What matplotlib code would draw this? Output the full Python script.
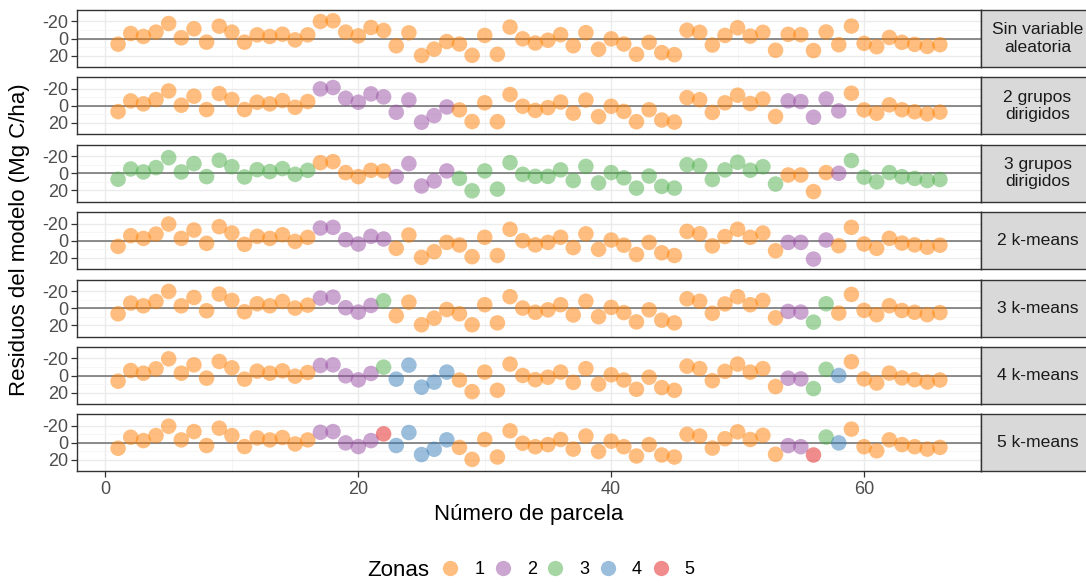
import matplotlib
matplotlib.use("Agg")
import matplotlib.pyplot as plt
from matplotlib.lines import Line2D
import numpy as np

plt.rcParams['font.family'] = ['Liberation Sans', 'DejaVu Sans']

parcela = list(range(1, 67))
paneles = ["Sin variable\naleatoria", "2 grupos\ndirigidos", "3 grupos\ndirigidos",
           "2 k-means", "3 k-means", "4 k-means", "5 k-means"]
zonas_labels = ["1", "2", "3", "4", "5"]
zonas_colores = ["#FF7F00", "#984EA3", "#4DAF4A", "#377EB8", "#E41A1C"]
x_ticks = [0, 20, 40, 60]
y_ticks = [-20, 0, 20]

res_sin = [6.7, -5.9, -2.4, -7.5, -17.6, -0.8, -11.4, 4.3, -14.5, -7.5,
           4.3, -4.3, -2.4, -5.1, 1.6, -4.3, -20.0, -20.8, -7.5, -3.1,
           -12.9, -9.4, 8.6, -6.7, 20.0, 12.5, 3.6, 6.5, 19.8, -3.6,
           18.6, -13.4, 0.4, 5.3, 2.0, -4.5, 8.5, -6.9, 12.6, 0.4,
           6.5, 18.6, 4.5, 16.6, 19.0, -9.7, -7.3, 7.7, -3.6, -12.6,
           -2.8, -7.3, 13.8, -4.9, -4.5, 14.2, -7.7, 7.3, -14.6, 5.7,
           9.7, -1.2, 4.5, 6.9, 9.3, 7.3]
zona_sin = [1] * 66

res_2d = [6.7, -5.9, -2.4, -7.5, -17.6, -0.8, -11.4, 4.3, -14.5, -7.5,
          4.3, -4.3, -2.4, -6.3, 1.6, -5.1, -20.0, -21.6, -9.0, -4.3,
          -14.1, -10.6, 7.5, -7.0, 19.2, 11.4, 1.2, 4.7, 18.4, -3.6,
          18.6, -13.4, 0.4, 5.3, 2.0, -4.5, 8.5, -6.9, 12.6, 0.4,
          6.5, 18.6, 4.5, 16.6, 19.0, -9.7, -7.3, 7.7, -3.6, -12.6,
          -2.8, -8.2, 12.5, -5.9, -5.1, 13.3, -8.2, 5.9, -14.9, 4.7,
          8.6, -1.2, 4.5, 6.9, 9.3, 7.3]
zona_2d = [1] * 16 + [2] * 11 + [1] * 26 + [2] * 5 + [1] * 8

res_3d = [7.0, -5.1, -1.6, -6.7, -18.4, -1.6, -11.4, 3.9, -15.3, -7.8,
          4.3, -4.3, -2.0, -5.5, 1.2, -3.5, -12.5, -13.7, -0.8, 3.9,
          -3.5, -2.7, 3.9, -11.4, 14.9, 9.0, -2.8, 6.0, 20.6, -2.8,
          18.6, -12.6, 1.2, 3.6, 3.6, -4.0, 8.5, -8.1, 11.3, -0.8,
          5.3, 17.4, 3.2, 15.4, 17.4, -10.1, -8.9, 7.3, -4.0, -13.0,
          -3.6, -7.7, 12.6, 2.0, 2.0, 21.5, -0.8, 0.0, -15.0, 4.5,
          10.1, -0.8, 4.0, 6.0, 8.5, 7.3]
zona_3d = [3] * 16 + [1] * 6 + [2] * 5 + [3] * 26 + [1] * 4 + [2] + [3] * 8

res_2k = [6.7, -5.9, -2.7, -7.8, -19.6, -2.7, -12.5, 3.1, -16.5, -9.0,
          4.3, -5.1, -2.7, -7.0, 0.8, -3.9, -14.9, -15.7, -1.2, 3.9,
          -5.1, -2.0, 9.0, -6.7, 19.6, 12.9, 2.0, 5.1, 18.8, -4.0,
          17.4, -13.4, 0.0, 4.9, 2.0, -4.0, 8.1, -8.1, 10.1, -0.8,
          5.3, 16.2, 2.0, 14.2, 17.4, -10.9, -8.1, 6.1, -4.9, -13.4,
          -4.0, -9.0, 11.8, 2.0, 2.0, 21.6, -0.8, 5.9, -15.7, 3.9,
          9.0, -2.8, 2.8, 4.9, 7.7, 5.3]
zona_2k = [1] * 16 + [2] * 6 + [1] * 31 + [2] * 4 + [1] * 9

res_3k = [6.7, -5.9, -2.7, -7.8, -19.6, -2.7, -12.5, 3.1, -16.5, -9.0,
          4.3, -5.1, -2.7, -7.8, 0.0, -3.5, -11.8, -12.9, -0.4, 4.7,
          -3.1, -8.6, 9.0, -7.0, 19.6, 11.8, 1.6, 6.7, 19.6, -4.0,
          17.4, -13.4, 0.0, 4.9, 2.0, -4.0, 8.1, -8.1, 10.1, -0.8,
          5.3, 16.2, 2.0, 14.2, 17.4, -10.9, -8.1, 6.1, -4.9, -13.4,
          -4.0, -9.0, 11.4, 3.9, 4.7, 16.5, -5.1, 5.9, -16.1, 2.7,
          7.8, -2.8, 2.8, 4.9, 7.7, 5.3]
zona_3k = [1] * 16 + [2] * 5 + [3] + [1] * 31 + [2] * 2 + [3] * 2 + [1] * 9

res_4k = [6.7, -5.9, -2.7, -7.8, -19.6, -2.7, -12.5, 3.1, -16.5, -9.0,
          4.3, -5.1, -2.7, -5.5, 0.8, -3.5, -11.8, -12.5, 0.4, 5.1,
          -2.4, -9.8, 4.3, -12.2, 13.7, 7.8, -4.0, 5.3, 19.0, -4.0,
          17.4, -13.4, 0.0, 4.9, 2.0, -4.0, 8.1, -8.1, 10.1, -0.8,
          5.3, 16.2, 2.0, 14.2, 17.4, -10.9, -8.1, 6.1, -4.9, -13.4,
          -4.0, -8.1, 13.0, 3.2, 4.0, 15.4, -7.3, 0.0, -16.2, 4.0,
          8.9, -2.8, 2.8, 4.9, 7.7, 5.3]
zona_4k = [1] * 16 + [2] * 5 + [3] + [4] * 5 + [1] * 26 + [2] * 2 + [3] * 2 + [4] + [1] * 8

res_5k = [6.3, -6.7, -2.7, -8.6, -19.6, -3.5, -13.3, 3.1, -17.3, -8.6,
          4.3, -5.9, -3.5, -6.3, 1.2, -3.5, -12.5, -13.3, 0.0, 4.3,
          -2.7, -10.6, 3.1, -12.2, 13.7, 7.5, -3.6, 5.3, 19.4, -4.0,
          16.6, -14.2, 0.4, 4.5, 2.0, -4.0, 7.3, -8.1, 10.1, -2.0,
          4.5, 15.4, 2.0, 14.2, 16.6, -10.1, -8.1, 6.1, -4.9, -13.0,
          -4.0, -8.9, 13.4, 3.2, 4.5, 14.2, -6.9, 0.0, -16.2, 4.5,
          9.3, -3.6, 2.0, 4.5, 7.3, 5.3]
zona_5k = [1] * 16 + [2] * 5 + [5] + [4] * 5 + [1] * 26 + [2] * 2 + [5] + [3] + [4] + [1] * 8

residuos = [res_sin, res_2d, res_3d, res_2k, res_3k, res_4k, res_5k]
zonas = [zona_sin, zona_2d, zona_3d, zona_2k, zona_3k, zona_4k, zona_5k]

W, H = 1086, 583
fig = plt.figure(figsize=(W / 100, H / 100), dpi=100)

ax_left, ax_right = 77, 981
strip_right = 1094
panel_h = 57
tops = [10 + i * 67.4 for i in range(7)]
dark = "#333333"

for i, (nombre, res, zon) in enumerate(zip(paneles, residuos, zonas)):
    top = tops[i]
    rect = [ax_left / W, 1 - (top + panel_h) / H, (ax_right - ax_left) / W, panel_h / H]
    ax = fig.add_axes(rect)
    ax.set_xlim(-2.25, 69.25)
    ax.set_ylim(33.5, -33.5)
    ax.set_xticks(x_ticks)
    ax.set_xticks([10, 30, 50], minor=True)
    ax.set_yticks(y_ticks)
    ax.set_yticks([-10, 10], minor=True)
    ax.grid(which='major', color='#EBEBEB', lw=1.0, zorder=0)
    ax.grid(which='minor', color='#F5F5F5', lw=0.6, zorder=0)
    ax.set_axisbelow(True)
    ax.axhline(0, color='#6E6E6E', lw=1.1, zorder=1)
    cols = [zonas_colores[z - 1] for z in zon]
    ax.scatter(parcela, res, s=125, c=cols, alpha=0.5, linewidths=0, zorder=3)
    for sp in ax.spines.values():
        sp.set_color(dark)
        sp.set_linewidth(1.0)
    ax.tick_params(axis='y', which='major', labelsize=13, colors=dark, labelcolor='#4D4D4D',
                   length=4, width=0.9, pad=2)
    ax.tick_params(which='minor', length=0)
    ax.set_yticklabels([str(v) for v in y_ticks])
    if i < 6:
        ax.tick_params(axis='x', which='major', length=0, labelbottom=False)
    else:
        ax.tick_params(axis='x', which='major', labelsize=13, colors=dark, labelcolor='#4D4D4D',
                       length=4, width=0.9, pad=3)
        ax.set_xlabel("Número de parcela", fontsize=16, labelpad=4)

    srect = [ax_right / W, rect[1], (strip_right - ax_right) / W, rect[3]]
    sax = fig.add_axes(srect)
    sax.set_facecolor('#D9D9D9')
    sax.set_xticks([])
    sax.set_yticks([])
    for sp in sax.spines.values():
        sp.set_color(dark)
        sp.set_linewidth(1.0)
    sax.text(0.5, 0.5, nombre, ha='center', va='center', fontsize=12.6,
             color='#1A1A1A', transform=sax.transAxes, linespacing=1.2)

fig.text(20 / W, 1 - 240 / H, "Residuos del modelo (Mg C/ha)", rotation=90,
         ha='center', va='center', fontsize=16)

handles = [Line2D([], [], marker='o', linestyle='none', markersize=11,
                  markerfacecolor=c, markeredgewidth=0, alpha=0.5) for c in zonas_colores]
fig.legend(handles, zonas_labels, ncol=5, loc='center',
           bbox_to_anchor=(567 / W, 1 - 570 / H), frameon=False, fontsize=13,
           handletextpad=0.73, columnspacing=0.43, handlelength=1.2,
           borderpad=0, borderaxespad=0)
fig.text(398 / W, 1 - 570 / H, "Zonas", ha='center', va='center', fontsize=16)

fig.savefig("out.png", dpi=100)
